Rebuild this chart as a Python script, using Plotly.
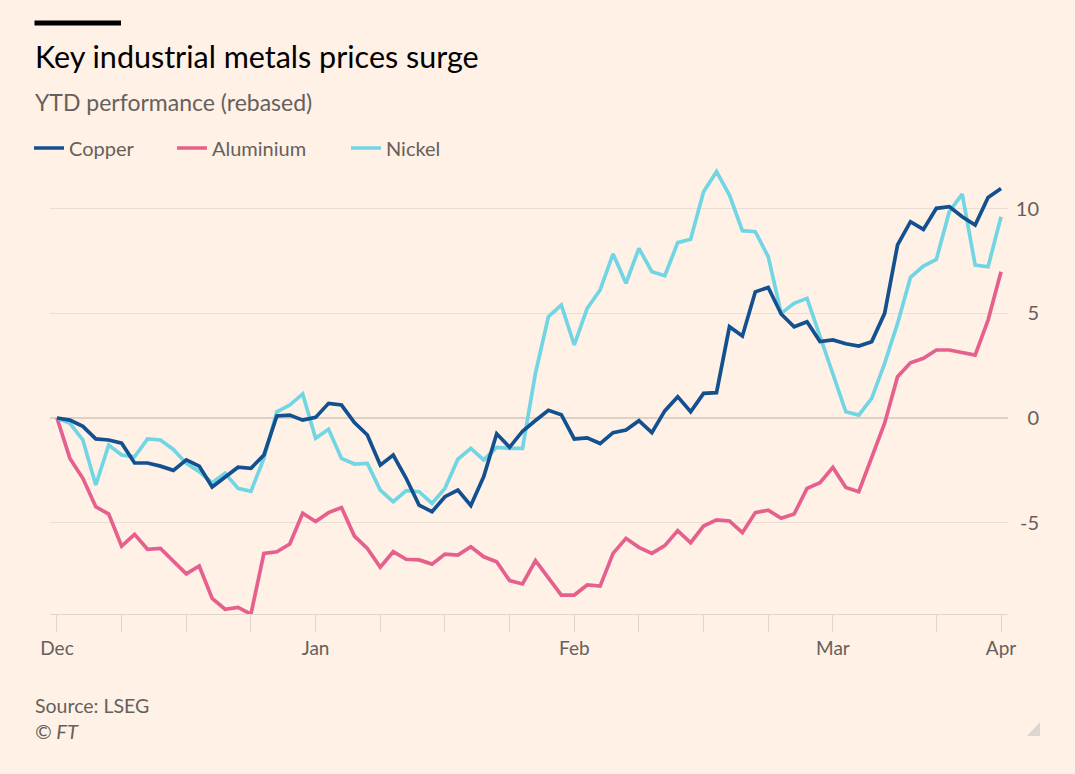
import plotly.graph_objects as go

# ---- data (rebased YTD performance, %) ----
copper = [0, -0.1, -0.4, -1.0, -1.05, -1.2, -2.15, -2.15, -2.3, -2.5, -2.0, -2.3, -3.3, -2.8, -2.35, -2.4,
          -1.77, 0.1, 0.14, -0.1, 0.03, 0.7, 0.62, -0.22, -0.81, -2.25, -1.77, -2.88, -4.16, -4.48, -3.76, -3.44,
          -4.18, -2.8, -0.75, -1.4, -0.63, -0.12, 0.37, 0.16, -1.0, -0.95, -1.22, -0.7, -0.57, -0.13, -0.7, 0.34,
          1.02, 0.3, 1.18, 1.21, 4.36, 3.92, 6.03, 6.24, 4.97, 4.36, 4.6, 3.65, 3.73, 3.55, 3.44, 3.65,
          5.0, 8.27, 9.38, 9.01, 10.02, 10.1, 9.62, 9.22, 10.54, 10.97]
aluminium = [0, -1.93, -2.88, -4.24, -4.59, -6.12, -5.56, -6.27, -6.23, -6.87, -7.45, -7.07, -8.62, -9.14, -9.05, -9.37,
             -6.47, -6.39, -6.02, -4.55, -4.95, -4.52, -4.28, -5.64, -6.23, -7.13, -6.39, -6.75, -6.78, -6.98, -6.5, -6.55,
             -6.15, -6.63, -6.87, -7.77, -7.93, -6.82, -7.66, -8.46, -8.46, -7.98, -8.03, -6.47, -5.75, -6.18, -6.47, -6.1,
             -5.38, -5.96, -5.16, -4.87, -4.92, -5.48, -4.52, -4.4, -4.79, -4.59, -3.36, -3.09, -2.36, -3.32, -3.52, -1.93,
             -0.25, 1.97, 2.64, 2.85, 3.25, 3.25, 3.12, 3.01, 4.68, 6.99]
nickel = [0, -0.25, -1.05, -3.2, -1.29, -1.77, -1.85, -1.0, -1.05, -1.5, -2.17, -2.56, -3.09, -2.64, -3.36, -3.5,
          -1.93, 0.3, 0.62, 1.15, -0.97, -0.54, -1.93, -2.2, -2.17, -3.44, -4.0, -3.47, -3.52, -4.08, -3.36, -1.97,
          -1.45, -2.0, -1.4, -1.45, -1.45, 2.14, 4.84, 5.4, 3.49, 5.24, 6.12, 7.84, 6.44, 8.11, 6.99, 6.8,
          8.38, 8.54, 10.81, 11.77, 10.65, 8.95, 8.9, 7.71, 5.0, 5.48, 5.72, 3.88, 2.05, 0.3, 0.14, 0.94,
          2.61, 4.52, 6.72, 7.26, 7.58, 9.86, 10.7, 7.31, 7.23, 9.62]

month_labels = ["Dec", "Jan", "Feb", "Mar", "Apr"]
month_idx = [0, 20, 40, 60, 73]
week_idx = [5, 10, 15, 25, 30, 35, 45, 50, 55, 68]
y_ticks = [-5, 0, 5, 10]
y_labels = ["-5", "0", "5", "10"]

W, H = 1075, 774
def px(v):
    return v / W
def py(v):
    return 1 - v / H

BG = "#fff1e5"
GREY = "#66605c"
GRID = "#e9ded3"
FONT = "Lato"

x = list(range(len(copper)))

fig = go.Figure()
series = [
    ("Aluminium", aluminium, "#e6608e", "legend2"),
    ("Nickel", nickel, "#72d5e4", "legend3"),
    ("Copper", copper, "#13508f", "legend"),
]
for name, vals, col, leg in series:
    fig.add_trace(go.Scatter(x=x, y=vals, mode="lines", name=name,
                             line=dict(color=col, width=3.7),
                             legend=leg, hoverinfo="skip"))

legend_common = dict(orientation="h", xanchor="left", yanchor="middle",
                     y=py(148), bgcolor="rgba(0,0,0,0)",
                     font=dict(family=FONT, size=20, color=GREY))

fig.update_layout(
    width=W, height=H,
    margin=dict(l=0, r=0, t=0, b=0, autoexpand=False),
    paper_bgcolor=BG, plot_bgcolor=BG,
    font=dict(family=FONT, color=GREY, size=18),
    showlegend=True,
    legend=dict(x=px(29), **legend_common),
    legend2=dict(x=px(172), **legend_common),
    legend3=dict(x=px(346), **legend_common),
    xaxis=dict(
        domain=[px(50), px(1008)], range=[-0.54, 73.54],
        tickmode="array", tickvals=month_idx, ticktext=month_labels,
        ticks="outside", ticklen=17, tickwidth=1, tickcolor="#e0d5ca",
        minor=dict(tickmode="array", tickvals=week_idx, ticks="outside",
                   ticklen=17, tickwidth=1, tickcolor="#e0d5ca"),
        showline=True, linecolor="#e0d5ca", linewidth=1,
        showgrid=False, zeroline=False, automargin=False,
        tickfont=dict(family=FONT, size=19, color=GREY),
        fixedrange=True,
    ),
    yaxis=dict(
        domain=[1 - 614 / H, 1 - 165 / H], range=[-9.365, 12.09],
        tickmode="array", tickvals=y_ticks, ticktext=y_labels,
        side="left", anchor="free", position=px(1039),
        showline=False, ticks="", automargin=False,
        showgrid=True, gridcolor=GRID, gridwidth=1,
        zeroline=True, zerolinecolor="#ddd1c6", zerolinewidth=1.5,
        tickfont=dict(family=FONT, size=20, color=GREY),
        fixedrange=True,
    ),
    annotations=[
        dict(text="Key industrial metals prices surge", x=px(32.5), y=py(56),
             xref="paper", yref="paper", xanchor="left", yanchor="middle",
             showarrow=False, font=dict(family=FONT, size=30.5, color="#000000")),
        dict(text="YTD performance (rebased)", x=px(32.5), y=py(102),
             xref="paper", yref="paper", xanchor="left", yanchor="middle",
             showarrow=False, font=dict(family=FONT, size=23, color=GREY)),
        dict(text="Source: LSEG", x=px(32.5), y=py(705),
             xref="paper", yref="paper", xanchor="left", yanchor="middle",
             showarrow=False, font=dict(family=FONT, size=19.5, color=GREY)),
        dict(text="<i>© FT</i>", x=px(32.5), y=py(731),
             xref="paper", yref="paper", xanchor="left", yanchor="middle",
             showarrow=False, font=dict(family=FONT, size=20, color=GREY)),
    ],
    shapes=[
        dict(type="rect", xref="paper", yref="paper",
             x0=px(34.5), x1=px(121), y0=py(20.5), y1=py(25.5),
             fillcolor="#000000", line=dict(width=0)),
        dict(type="path", xref="paper", yref="paper",
             path="M %f %f L %f %f L %f %f Z" % (px(1027), py(736), px(1040), py(736), px(1040), py(722)),
             fillcolor="#dcd6d1", line=dict(width=0)),
    ],
)

fig.write_html("out.html")
